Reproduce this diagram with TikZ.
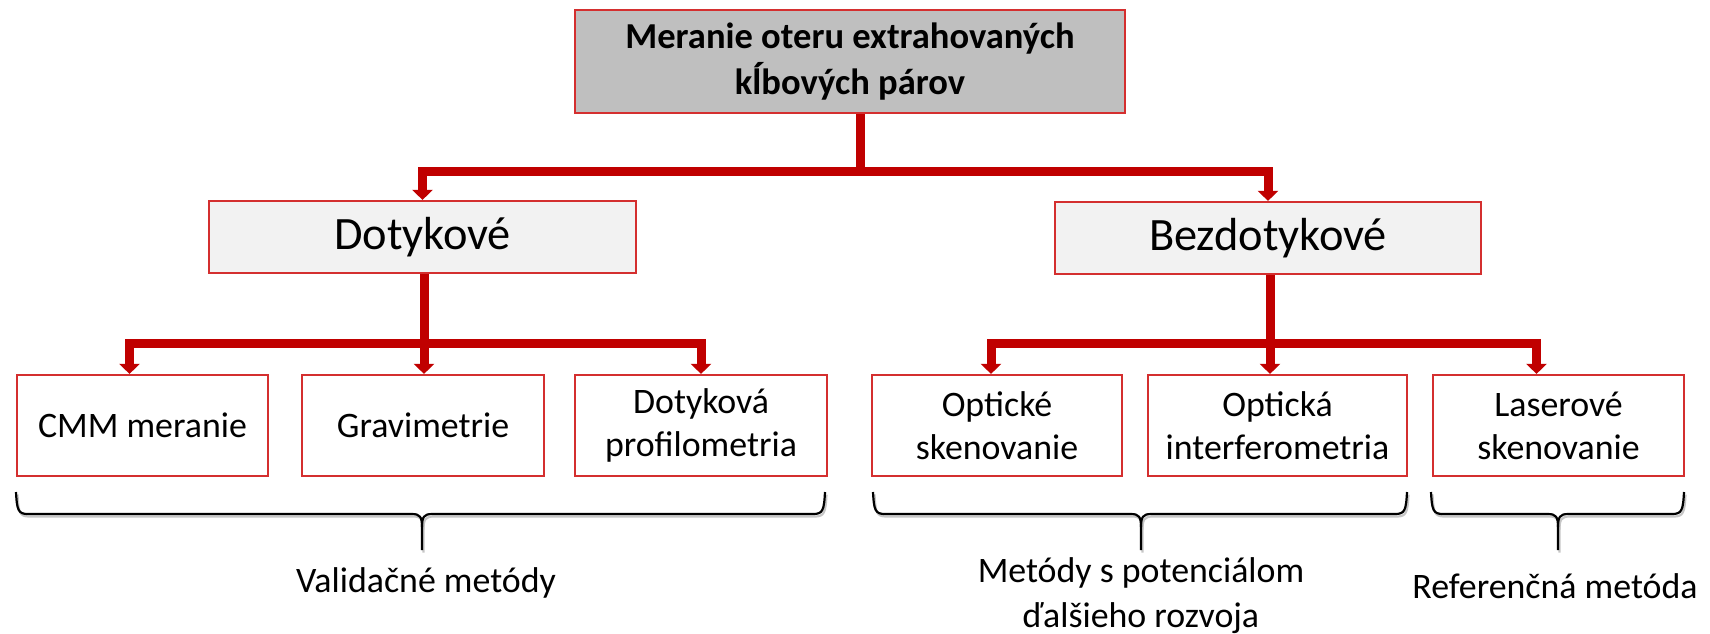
\documentclass[tikz,border=0pt]{standalone}
\usepackage{fontspec}
\setmainfont{Carlito}
\usepackage{tikz}
\usetikzlibrary{arrows.meta, positioning}
\definecolor{linkred}{HTML}{C00000}
\definecolor{edgered}{HTML}{D42F2F}
\definecolor{rootgray}{HTML}{BFBFBF}
\definecolor{groupgray}{HTML}{F2F2F2}
\tikzstyle{box} = [rectangle, 
draw=edgered, 
line width=0.22mm,
inner sep=0pt,
align=center,
font=\fontsize{10.2}{12.2}\selectfont]
\tikzstyle{rootbox} = [box, fill=rootgray, minimum width=55mm, minimum height=10.3mm,
font=\bfseries\fontsize{10.4}{13}\selectfont]
\tikzstyle{groupbox} = [box, fill=groupgray, minimum height=7.2mm,
font=\fontsize{13.2}{15}\selectfont]
\tikzstyle{methodbox} = [box, fill=white, minimum height=10.1mm]
\tikzstyle{conn} = [linkred, line width=0.9mm]
\tikzstyle{arrow} = [conn, -{Triangle[length=1mm, width=2mm]}]
\tikzstyle{bracket} = [black, line width=0.22mm]
\tikzstyle{label} = [anchor=base, align=center, inner sep=0pt, font=\fontsize{10.2}{12.8}\selectfont]

\begin{document}
\begin{tikzpicture}[x=0.1mm, y=-0.1mm]
\useasboundingbox (0,0) rectangle (1710,633);

% Hlavný box
\node[rootbox] (root) at (850,61.5) {Meranie oteru extrahovaných\\kĺbových párov};

% Dve skupiny metód
\node[groupbox, minimum width=42.7mm] (dot) at (422.5,237) {Dotykové};
\node[groupbox, minimum width=42.6mm] (bez) at (1268,238) {Bezdotykové};

% Jednotlivé metódy
\node[methodbox, minimum width=25.1mm] (cmm) at (142.5,425.5) {CMM meranie};
\node[methodbox, minimum width=24.2mm] (grav) at (423,425.5) {Gravimetrie};
\node[methodbox, minimum width=25.2mm] (prof) at (701,425.5) {Dotyková\\profilometria};
\node[methodbox, minimum width=25mm] (opt) at (997,425.5) {Optické\\skenovanie};
\node[methodbox, minimum width=25.9mm] (int) at (1277.5,425.5) {Optická\\interferometria};
\node[methodbox, minimum width=25.1mm] (las) at (1558.5,425.5) {Laserové\\skenovanie};

% Spojnice
\coordinate (j0) at (860,171);
\coordinate (j1) at (424,343);
\coordinate (j2) at (1270,343);

\draw[conn] (root.south -| j0) -- (j0);
\draw[arrow] (j0) -| (dot.north);
\draw[arrow] (j0) -| (bez.north);

\draw[conn] (dot.south -| j1) -- (j1);
\draw[arrow] (j1) -| ([xshift=-1.3mm]cmm.north);
\draw[arrow] (j1) -- (j1 |- grav.north);
\draw[arrow] (j1) -| (prof.north);

\draw[conn] (bez.south -| j2) -- (j2);
\draw[arrow] (j2) -| ([xshift=-0.6mm]opt.north);
\draw[arrow] (j2) -- (j2 |- int.north);
\draw[arrow] (j2) -| ([xshift=-2.2mm]las.north);

% Zložené zátvorky (tieň a čiara)
\foreach \xa/\xt/\xb in {16/422/825, 873/1141/1407, 1431/1558/1684}{
  \foreach \dx/\dy/\col in {1.5/2.5/gray!45, 0/0/black}{
    \begin{scope}[shift={(\dx,\dy)}]
    \draw[bracket, \col] (\xa,492) .. controls (\xa+1,510) and (\xa+2,514) .. (\xa+12,514)
      -- (\xt-10,514) .. controls (\xt-2,514) and (\xt,517) .. (\xt,527) -- (\xt,550);
    \draw[bracket, \col] (\xt,527) .. controls (\xt,517) and (\xt+2,514) .. (\xt+10,514)
      -- (\xb-12,514) .. controls (\xb-2,514) and (\xb-1,510) .. (\xb,492);
    \end{scope}
  }
}

% Popisy pod zátvorkami
\node[label] (val) at (426,592) {Validačné metódy};
\node[label] (pot) at (1141,627) {Metódy s potenciálom\\ďalšieho rozvoja};
\node[label] (ref) at (1555,598) {Referenčná metóda};

\end{tikzpicture}
\end{document}
